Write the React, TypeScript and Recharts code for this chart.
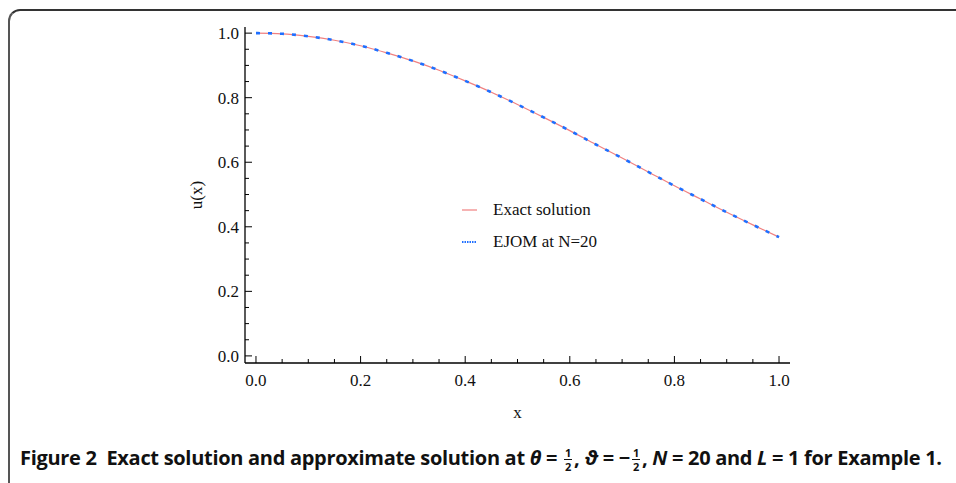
import { LineChart, Line, XAxis, YAxis, Legend } from "recharts";

// x grid used to read both curves off the figure
const xs = [0, 0.05, 0.1, 0.15, 0.2, 0.25, 0.3, 0.35, 0.4, 0.45, 0.5, 0.55, 0.6, 0.65, 0.7, 0.75, 0.8, 0.85, 0.9, 0.95, 1.0];
const exacta = [1.0, 0.998, 0.99, 0.978, 0.961, 0.939, 0.914, 0.885, 0.852, 0.817, 0.779, 0.739, 0.698, 0.655, 0.613, 0.57, 0.527, 0.486, 0.445, 0.406, 0.368];
const ejom = [1.0, 0.998, 0.99, 0.978, 0.961, 0.939, 0.914, 0.885, 0.852, 0.817, 0.779, 0.739, 0.698, 0.655, 0.613, 0.57, 0.527, 0.486, 0.445, 0.406, 0.368];
const ticksX = [0, 0.05, 0.1, 0.15, 0.2, 0.25, 0.3, 0.35, 0.4, 0.45, 0.5, 0.55, 0.6, 0.65, 0.7, 0.75, 0.8, 0.85, 0.9, 0.95, 1.0];
const ticksY = [0, 0.05, 0.1, 0.15, 0.2, 0.25, 0.3, 0.35, 0.4, 0.45, 0.5, 0.55, 0.6, 0.65, 0.7, 0.75, 0.8, 0.85, 0.9, 0.95, 1.0];

const data = xs.map((x, i) => ({ x, exacta: exacta[i], ejom: ejom[i] }));

const SERIF = "'Liberation Serif', 'DejaVu Serif', serif";
const SANS = "'Open Sans', 'Noto Sans', sans-serif";
const esMayor = (v: number) => Math.abs(Math.round(v * 5) - v * 5) < 1e-6;

function TickAbajo(props: any) {
  const { x, y, payload } = props;
  const v = payload.value;
  const largo = esMayor(v) ? 7 : 4;
  return (
    <g>
      <line x1={x} x2={x} y1={y} y2={y - largo} stroke="#000" strokeWidth={1} />
      {esMayor(v) && (
        <text x={x} y={y + 23} textAnchor="middle" fontFamily={SERIF} fontSize={17} fill="#111">
          {v.toFixed(1)}
        </text>
      )}
    </g>
  );
}

function TickArriba(props: any) {
  const { x, y, payload } = props;
  const largo = esMayor(payload.value) ? 7 : 4;
  return <line x1={x} x2={x} y1={y} y2={y + largo} stroke="#000" strokeWidth={1} />;
}

function TickIzq(props: any) {
  const { x, y, payload } = props;
  const v = payload.value;
  const largo = esMayor(v) ? 7 : 4;
  return (
    <g>
      <line x1={x} x2={x + largo} y1={y} y2={y} stroke="#000" strokeWidth={1} />
      {esMayor(v) && (
        <text x={x - 6} y={y + 6} textAnchor="end" fontFamily={SERIF} fontSize={17} fill="#111">
          {v.toFixed(1)}
        </text>
      )}
    </g>
  );
}

function TickDer(props: any) {
  const { x, y, payload } = props;
  const largo = esMayor(payload.value) ? 7 : 4;
  return <line x1={x} x2={x - largo} y1={y} y2={y} stroke="#000" strokeWidth={1} />;
}

function LeyendaItems() {
  return (
    <div style={{ fontFamily: SERIF, fontSize: 17, color: "#111" }}>
      <div style={{ display: "flex", alignItems: "center", height: 32 }}>
        <svg width={33} height={10}>
          <line x1={2} x2={17} y1={5} y2={5} stroke="#f08080" strokeWidth={1.2} />
        </svg>
        <span>Exact solution</span>
      </div>
      <div style={{ display: "flex", alignItems: "center", height: 32 }}>
        <svg width={33} height={10}>
          <line x1={2} x2={17} y1={5} y2={5} stroke="#1f6fff" strokeWidth={2} strokeDasharray="1.5 1" />
        </svg>
        <span>EJOM at N=20</span>
      </div>
    </div>
  );
}

function Frac({ n, d }: { n: string; d: string }) {
  return (
    <span style={{ display: "inline-flex", flexDirection: "column", alignItems: "center", verticalAlign: "middle", fontSize: 11, lineHeight: "13px", margin: "0 2px" }}>
      <span style={{ borderBottom: "1.3px solid #111", padding: "0 1px" }}>{n}</span>
      <span>{d}</span>
    </span>
  );
}

export default function App() {
  return (
    <div style={{ position: "fixed", left: 0, top: 0, width: 956, height: 483, background: "#fff", overflow: "hidden" }}>
      <div
        style={{
          position: "absolute",
          left: 8,
          top: 9,
          width: 960,
          height: 500,
          borderTop: "2px solid #333",
          borderLeft: "2px solid #555",
          borderTopLeftRadius: 12,
        }}
      />
      <div style={{ position: "absolute", left: 0, top: 0 }}>
        <LineChart width={956} height={483} data={data} margin={{ top: 27, right: 166, left: 185, bottom: 65 }}>
          <XAxis
            dataKey="x"
            type="number"
            xAxisId="abajo"
            domain={[-0.021, 1.021]}
            ticks={ticksX}
            interval={0}
            allowDataOverflow
            tickSize={0}
            tickMargin={0}
            tickLine={false}
            axisLine={{ stroke: "#000", strokeWidth: 1.3 }}
            tick={<TickAbajo />}
            height={55}
            label={{ value: "x", position: "insideBottom", offset: 0, style: { fontFamily: SERIF, fontSize: 17, fill: "#111" } }}
          />
          <XAxis
            dataKey="x"
            type="number"
            xAxisId="arriba"
            orientation="top"
            domain={[-0.021, 1.021]}
            ticks={ticksX}
            interval={0}
            allowDataOverflow
            tickSize={0}
            tickMargin={0}
            tickLine={false}
            axisLine={{ stroke: "#000", strokeWidth: 1.3 }}
            tick={<TickArriba />}
            height={0}
          />
          <YAxis
            type="number"
            yAxisId="izq"
            domain={[-0.022, 1.019]}
            ticks={ticksY}
            interval={0}
            allowDataOverflow
            tickSize={0}
            tickMargin={0}
            tickLine={false}
            axisLine={{ stroke: "#000", strokeWidth: 1.3 }}
            tick={<TickIzq />}
            width={60}
            label={{ value: "u(x)", angle: -90, position: "insideLeft", offset: 11, style: { textAnchor: "middle", fontFamily: SERIF, fontSize: 17, fill: "#111" } }}
          />
          <YAxis
            type="number"
            yAxisId="der"
            orientation="right"
            domain={[-0.022, 1.019]}
            ticks={ticksY}
            interval={0}
            allowDataOverflow
            tickSize={0}
            tickMargin={0}
            tickLine={false}
            axisLine={{ stroke: "#000", strokeWidth: 1.3 }}
            tick={<TickDer />}
            width={0}
          />
          <Legend
            layout="vertical"
            verticalAlign="middle"
            align="center"
            content={<LeyendaItems />}
            wrapperStyle={{ left: 460, top: 194, width: 200 }}
          />
          <Line
            xAxisId="abajo"
            yAxisId="izq"
            dataKey="exacta"
            name="Exact solution"
            type="monotone"
            stroke="#f08080"
            strokeWidth={1.2}
            dot={false}
            isAnimationActive={false}
          />
          <Line
            xAxisId="abajo"
            yAxisId="izq"
            dataKey="ejom"
            name="EJOM at N=20"
            type="monotone"
            stroke="#1f6fff"
            strokeWidth={2.6}
            strokeDasharray="4 8"
            dot={false}
            isAnimationActive={false}
          />
        </LineChart>
      </div>
      <div
        style={{
          position: "absolute",
          left: 20,
          top: 444,
          fontFamily: SANS,
          fontWeight: 700,
          fontSize: 20,
          color: "#111",
          whiteSpace: "nowrap",
          letterSpacing: -0.3,
          lineHeight: "28px",
        }}
      >
        Figure 2&nbsp;&nbsp;Exact solution and approximate solution at <i>θ</i> = <Frac n="1" d="2" />, <i>ϑ</i> = −<Frac n="1" d="2" />, <i>N</i> = 20 and <i>L</i> = 1 for Example 1.
      </div>
    </div>
  );
}
